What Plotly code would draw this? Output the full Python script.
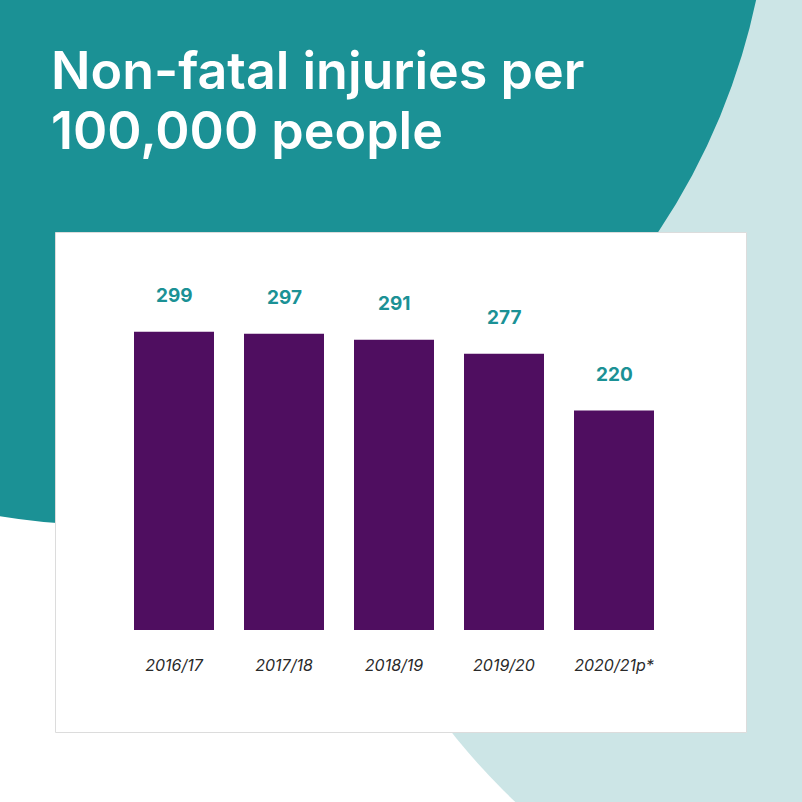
import plotly.graph_objects as go

categories = ["2016/17", "2017/18", "2018/19", "2019/20", "2020/21p*"]
values = [299, 297, 291, 277, 220]
value_labels = ["299", "297", "291", "277", "220"]
title_lines = ["Non-fatal injuries per", "100,000 people"]

W = H = 802
TEAL = "#1b9195"
LIGHT = "#cce5e6"
PURPLE = "#4f0e60"

def px_x(p):
    return p / W

def px_y(p):
    return 1 - p / H

fig = go.Figure()
fig.add_trace(go.Bar(
    x=categories, y=values, marker=dict(color=PURPLE, line=dict(width=0)),
    hoverinfo="skip",
))

for c, v, t in zip(categories, values, value_labels):
    fig.add_annotation(x=c, y=v, xref="x", yref="y", text=t, showarrow=False,
                       yshift=36, font=dict(family="Inter", size=19, color=TEAL, weight=700))

shapes = []
# light blue circle (right)
lc, lr = (998, 295), 700
shapes.append(dict(type="circle", xref="paper", yref="paper",
                   x0=px_x(lc[0] - lr), x1=px_x(lc[0] + lr),
                   y0=px_y(lc[1] + lr), y1=px_y(lc[1] - lr),
                   fillcolor=LIGHT, line=dict(width=0), layer="below"))
# teal circle (top-left)
tc, tr = (108.5, -136.8), 661.9
shapes.append(dict(type="circle", xref="paper", yref="paper",
                   x0=px_x(tc[0] - tr), x1=px_x(tc[0] + tr),
                   y0=px_y(tc[1] + tr), y1=px_y(tc[1] - tr),
                   fillcolor=TEAL, line=dict(width=0), layer="below"))
# white card
shapes.append(dict(type="rect", xref="paper", yref="paper",
                   x0=px_x(55.5), x1=px_x(746.5), y0=px_y(732.5), y1=px_y(232.5),
                   fillcolor="white", line=dict(width=1, color="#dcdcdc"), layer="below"))

for line, yc in zip(title_lines, [70, 130]):
    fig.add_annotation(xref="paper", yref="paper", x=px_x(49), y=px_y(yc),
                       xanchor="left", yanchor="middle", align="left",
                       text=line, showarrow=False,
                       font=dict(family="Inter", size=52, color="white", weight=600))

fig.update_layout(
    width=W, height=H, margin=dict(l=0, r=0, t=0, b=0),
    paper_bgcolor="white", plot_bgcolor="rgba(0,0,0,0)",
    shapes=shapes, showlegend=False, bargap=30 / 110,
    xaxis=dict(domain=[px_x(119), px_x(669)], showgrid=False, zeroline=False,
               showline=False, ticks="", ticklabelstandoff=24,
               tickfont=dict(family="Inter", size=16, color="#2a2a2a", style="italic")),
    yaxis=dict(domain=[px_y(630), px_y(231)], range=[0, 400], visible=False),
)

fig.write_html("out.html")
